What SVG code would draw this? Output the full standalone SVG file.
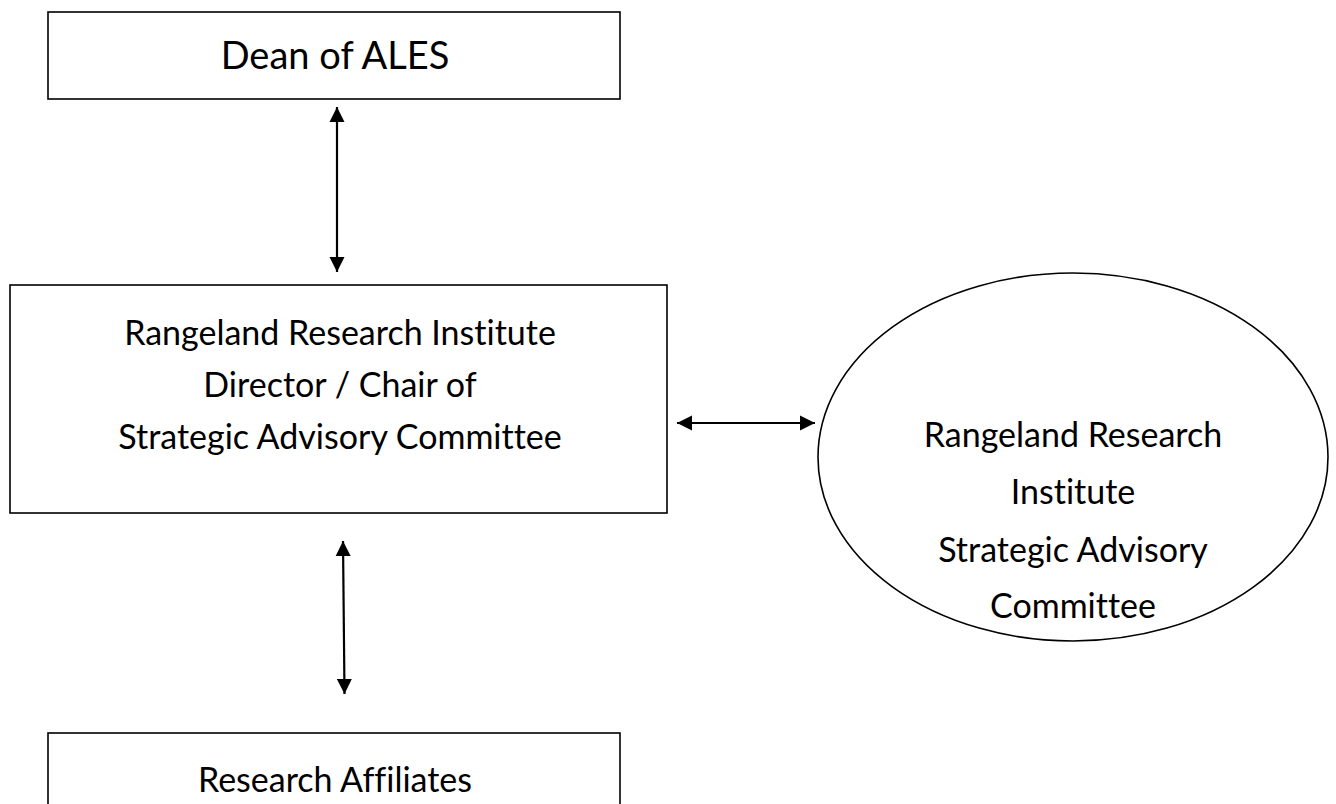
<svg xmlns="http://www.w3.org/2000/svg" width="1336" height="804" viewBox="0 0 1336 804">
  <style>
    .box { fill: #ffffff; stroke: #000000; stroke-width: 1.6; }
    .lbl { font-family: Lato, "Liberation Sans", sans-serif; font-size: 34px; fill: #000000; text-anchor: middle; font-variant-ligatures: none; }
    .big { font-size: 38px; }
    .link { stroke: #000000; stroke-width: 2.2; fill: none; marker-start: url(#head); marker-end: url(#head); }
  </style>
  <defs>
    <marker id="head" viewBox="0 0 10 10" refX="10" refY="5" markerWidth="7" markerHeight="7" markerUnits="strokeWidth" orient="auto-start-reverse">
      <path d="M0,0 L10,5 L0,10 Z" fill="#000000"/>
    </marker>
  </defs>
  <rect width="1336" height="804" fill="#ffffff"/>

  <g id="dean">
    <rect class="box" x="48" y="12" width="572" height="87"/>
    <text class="lbl big" x="335" y="69">Dean of ALES</text>
  </g>

  <g id="director">
    <rect class="box" x="10" y="285" width="657" height="228"/>
    <text class="lbl" x="340" y="345">Rangeland Research Institute</text>
    <text class="lbl" x="340" y="397">Director / Chair of</text>
    <text class="lbl" x="340" y="449">Strategic Advisory Committee</text>
  </g>

  <g id="committee">
    <ellipse class="box" cx="1073" cy="457" rx="255" ry="184"/>
    <text class="lbl" x="1073" y="447">Rangeland Research</text>
    <text class="lbl" x="1073" y="504">Institute</text>
    <text class="lbl" x="1073" y="562">Strategic Advisory</text>
    <text class="lbl" x="1073" y="618">Committee</text>
  </g>

  <g id="affiliates">
    <rect class="box" x="48" y="733" width="572" height="90"/>
    <text class="lbl" x="335" y="792">Research Affiliates</text>
  </g>

  <g id="connectors">
    <line class="link" x1="337" y1="107" x2="337" y2="272"/>
    <line class="link" x1="677" y1="423" x2="815" y2="423"/>
    <line class="link" x1="343" y1="541" x2="344.5" y2="694"/>
  </g>
</svg>
